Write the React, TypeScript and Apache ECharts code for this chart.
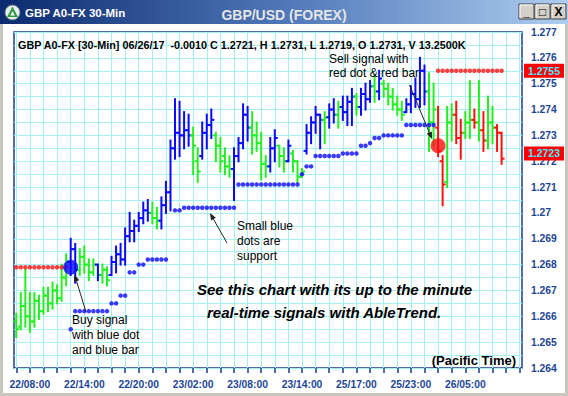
import React, { useEffect, useRef } from "react";
import * as echarts from "echarts";

// ---------- data ----------
const barSlots = 112; // category slots on the x axis (30-min bars)
const xTickLabels = ["22/08:00", "22/14:00", "22/20:00", "23/02:00", "23/08:00", "23/14:00", "25/17:00", "25/23:00", "26/05:00"];
const xTickIndex = [3, 15, 27, 39, 51, 63, 75, 87, 99];

const priceLow = [
  1.2652, 1.2655, 1.2656, 1.2654, 1.2656, 1.2659, 1.2661, 1.2662, 1.2663, 1.2665, 1.2666, 1.2672,
  1.2676, 1.2673, 1.2676, 1.2677, 1.2674, 1.2676, 1.2674, 1.2673, 1.2672, 1.2676, 1.2677, 1.268, 1.268, 1.2689, 1.2689, 1.2693, 1.2696, 1.2697, 1.2696, 1.2694, 1.2694, 1.27,
  1.2701, 1.2721, 1.2722, 1.2725, 1.2726, 1.2715, 1.2712, 1.2721, 1.2725, 1.2729, 1.272, 1.2716, 1.2715, 1.2714,
  1.2705, 1.272, 1.2725, 1.2728, 1.2723, 1.2724, 1.2713, 1.2714, 1.2716, 1.272, 1.2718, 1.2716, 1.272, 1.2716, 1.2712, 1.2714,
  1.2723, 1.2727, 1.2731, 1.2725, 1.2727, 1.2733, 1.2735, 1.2733, 1.2736, 1.2734, 1.2734, 1.2738, 1.2738, 1.274, 1.2743, 1.2743, 1.2744, 1.2745, 1.2742, 1.274, 1.2738, 1.2736, 1.2739, 1.2739, 1.2741, 1.2741, 1.2742, 1.2724, 1.2726,
  1.2722, 1.2703, 1.271, 1.2728, 1.2727, 1.2721, 1.2729, 1.2729, 1.2733, 1.2728, 1.2724, 1.2725, 1.2727, 1.2724, 1.2719,
];
const priceHigh = [
  1.2661, 1.2669, 1.2678, 1.2669, 1.2669, 1.2668, 1.2671, 1.2671, 1.2673, 1.2672, 1.268, 1.2684,
  1.269, 1.2688, 1.2686, 1.2687, 1.2682, 1.2682, 1.268, 1.268, 1.2679, 1.2683, 1.2687, 1.2688, 1.2694, 1.27, 1.2697, 1.27, 1.2704, 1.2705, 1.2704, 1.2702, 1.2706, 1.2712,
  1.2728, 1.2744, 1.2743, 1.2739, 1.2738, 1.2733, 1.2725, 1.2735, 1.2738, 1.274, 1.2731, 1.2729, 1.2725, 1.2722,
  1.2725, 1.2729, 1.2742, 1.2741, 1.2739, 1.2735, 1.2731, 1.2722, 1.2729, 1.2732, 1.2726, 1.2725, 1.2728, 1.2724, 1.272, 1.2717,
  1.2734, 1.2737, 1.2741, 1.2738, 1.2739, 1.2742, 1.2744, 1.2743, 1.2745, 1.2745, 1.2748, 1.2746, 1.2748, 1.275, 1.2751, 1.2753, 1.2755, 1.2751, 1.275, 1.2748, 1.2745, 1.2743, 1.2744, 1.2749, 1.2752, 1.276, 1.2757, 1.2754, 1.275,
  1.2741, 1.2722, 1.2741, 1.2742, 1.2743, 1.2736, 1.2739, 1.2751, 1.274, 1.2751, 1.2739, 1.2745, 1.2741, 1.2734, 1.2731,
];
const priceOpen = [
  1.2658, 1.2656, 1.2664, 1.266, 1.2658, 1.2666, 1.2662, 1.2668, 1.2665, 1.267, 1.2667, 1.2675,
  1.2681, 1.2686, 1.2678, 1.2683, 1.268, 1.2677, 1.268, 1.2676, 1.2678, 1.2676, 1.2681, 1.2684, 1.2682, 1.2691, 1.2693, 1.2695, 1.2698, 1.2701, 1.27, 1.2698, 1.2697, 1.2703,
  1.2708, 1.2725, 1.2731, 1.273, 1.2732, 1.273, 1.272, 1.2722, 1.2731, 1.2734, 1.273, 1.2726, 1.2722, 1.2718,
  1.2717, 1.2722, 1.2727, 1.2738, 1.2733, 1.273, 1.2727, 1.2719, 1.2718, 1.2725, 1.2726, 1.2722, 1.272, 1.2723, 1.272, 1.2714,
  1.2724, 1.2731, 1.2735, 1.2738, 1.2736, 1.2737, 1.274, 1.2738, 1.2741, 1.2739, 1.2743, 1.2745, 1.2741, 1.2746, 1.2744, 1.2749, 1.2747, 1.275, 1.2748, 1.2745, 1.2742, 1.274, 1.2739, 1.2742, 1.2746, 1.2744, 1.2755, 1.2747, 1.2735,
  1.2733, 1.272, 1.2712, 1.2735, 1.2738, 1.2729, 1.2731, 1.2735, 1.2736, 1.2735, 1.2732, 1.2728, 1.2735, 1.2733, 1.2731,
];
const priceClose = [
  1.2655, 1.2664, 1.266, 1.2658, 1.2666, 1.2662, 1.2668, 1.2665, 1.267, 1.2667, 1.2675, 1.2681,
  1.2686, 1.2678, 1.2683, 1.268, 1.2677, 1.268, 1.2676, 1.2678, 1.2674, 1.2681, 1.2684, 1.2682, 1.2691, 1.2693, 1.2695, 1.2698, 1.2701, 1.27, 1.2698, 1.2697, 1.2703, 1.2708,
  1.2725, 1.2731, 1.273, 1.2732, 1.273, 1.2726, 1.2716, 1.2731, 1.2734, 1.2736, 1.2726, 1.272, 1.2718, 1.2717,
  1.2722, 1.2727, 1.2738, 1.2733, 1.273, 1.2727, 1.2719, 1.2718, 1.2725, 1.2729, 1.2722, 1.272, 1.2726, 1.272, 1.2714, 1.2716,
  1.2731, 1.2735, 1.2738, 1.2736, 1.2737, 1.274, 1.2738, 1.2741, 1.2739, 1.2743, 1.2745, 1.2741, 1.2746, 1.2744, 1.2749, 1.2747, 1.2752, 1.2748, 1.2745, 1.2742, 1.274, 1.2738, 1.2742, 1.2746, 1.2744, 1.2755, 1.2747, 1.2735, 1.274,
  1.2724, 1.2711, 1.2735, 1.2738, 1.2729, 1.2731, 1.2735, 1.2736, 1.2735, 1.2732, 1.2728, 1.2735, 1.2733, 1.2731, 1.2721,
];
// B = uptrend (blue), G = neutral (green), R = downtrend (red)
const barTrend = [
  "G", "G", "G", "G", "G", "G", "G", "G", "G", "G", "G", "G",
  "B", "B", "G", "G", "G", "G", "B", "G", "G", "B", "B", "B", "B", "B", "B", "B", "B", "B", "G", "G", "B", "B",
  "B", "B", "B", "B", "B", "G", "G", "B", "B", "B", "G", "G", "G", "G",
  "B", "B", "B", "B", "G", "G", "G", "G", "B", "B", "G", "G", "B", "G", "G", "G",
  "B", "B", "B", "B", "G", "B", "B", "G", "B", "B", "B", "G", "B", "B", "B", "G", "B", "G", "G", "G", "G", "G", "B", "B", "B", "B", "B", "G", "G",
  "R", "R", "G", "G", "R", "R", "G", "G", "R", "G", "R", "G", "G", "R", "R",
];
// blue support dots (per bar, null = none)
const blueStop = [
  null, null, null, null, null, null, null, null, null, null, null, null,
  1.2655, 1.2662, 1.2662, 1.2662, 1.2662, 1.2662, 1.2662, 1.2662, 1.2662, 1.2665, 1.2665, 1.2668, 1.2668, 1.2677, 1.2677, 1.268, 1.268, 1.2682, 1.2682, 1.2682, 1.2682, 1.2682,
  null, 1.2701, 1.2701, 1.2702, 1.2702, 1.2702, 1.2702, 1.2702, 1.2702, 1.2702, 1.2702, 1.2702, 1.2702, 1.2702,
  1.2702, 1.2711, 1.2711, 1.2711, 1.2711, 1.2711, 1.2711, 1.2711, 1.2711, 1.2711, 1.2711, 1.2711, 1.2711, 1.2711, 1.2711, 1.2715,
  1.2718, 1.2718, 1.2722, 1.2722, 1.2722, 1.2722, 1.2722, 1.2722, 1.2723, 1.2723, 1.2723, 1.2723, 1.2726, 1.2726, 1.2727, 1.2729, 1.2729, 1.273, 1.273, 1.273, 1.273, 1.273, 1.2734, 1.2734, 1.2734, 1.2734, 1.2734, 1.2734, 1.2734,
  null, null, null, null, null, null, null, null, null, null, null, null, null, null, null,
];
// red resistance dots (per bar, null = none)
const redStop = [
  1.2679, 1.2679, 1.2679, 1.2679, 1.2679, 1.2679, 1.2679, 1.2679, 1.2679, 1.2679, 1.2679, 1.2679,
  null, null, null, null, null, null, null, null, null, null, null, null, null, null, null, null, null, null, null, null, null, null,
  null, null, null, null, null, null, null, null, null, null, null, null, null, null,
  null, null, null, null, null, null, null, null, null, null, null, null, null, null, null, null,
  null, null, null, null, null, null, null, null, null, null, null, null, null, null, null, null, null, null, null, null, null, null, null, null, null, null, null, null, null,
  1.2755, 1.2755, 1.2755, 1.2755, 1.2755, 1.2755, 1.2755, 1.2755, 1.2755, 1.2755, 1.2755, 1.2755, 1.2755, 1.2755, 1.2755,
];
const buySignal = { index: 12, price: 1.2679 };
const sellSignal = { index: 93, price: 1.2726 };
const priceTags = [1.2755, 1.2723];
const yMin = 1.264;
const yMax = 1.277;
const yStep = 0.001;

// ---------- styling ----------
const FONT = "'Liberation Sans', Arial, sans-serif";
const BLUE = "#0a0aff";
const GREEN = "#22f022";
const RED = "#ff1010";
const GRID = "#a6f0f0";
const NAVY = "#1b3c8f";
const LABEL = "#1c4596";

function arrow(x1: number, y1: number, x2: number, y2: number) {
  const dx = x2 - x1, dy = y2 - y1;
  const len = Math.hypot(dx, dy);
  const ux = dx / len, uy = dy / len;
  const head = 7, half = 2.8;
  const bx = x2 - ux * head, by = y2 - uy * head;
  return [
    { type: "line", z: 100, shape: { x1, y1, x2: bx, y2: by }, style: { stroke: "#222", lineWidth: 1 } },
    {
      type: "polygon", z: 100,
      shape: { points: [[x2, y2], [bx - uy * half, by + ux * half], [bx + uy * half, by - ux * half]] },
      style: { fill: "#222" },
    },
  ];
}

function txt(text: string, x: number, y: number, font: string, fill = "#000", align = "left") {
  return { type: "text", z: 100, x, y, style: { text, font, fill, align, verticalAlign: "middle" } };
}

function winButton(x: number, glyph: string) {
  return [
    { type: "rect", z: 10, shape: { x, y: 4, width: 15, height: 15 }, style: { fill: "#d4d0c8", stroke: "#404040", lineWidth: 1 } },
    { type: "line", z: 11, shape: { x1: x + 1, y1: 5, x2: x + 14, y2: 5 }, style: { stroke: "#ffffff", lineWidth: 1 } },
    { type: "line", z: 11, shape: { x1: x + 1, y1: 5, x2: x + 1, y2: 18 }, style: { stroke: "#ffffff", lineWidth: 1 } },
    txt(glyph, x + 7.5, 12, `bold 12px ${FONT}`, "#000", "center"),
  ];
}

export default function App() {
  const ref = useRef<HTMLDivElement>(null);

  useEffect(() => {
    if (!ref.current) return;
    const chart = echarts.init(ref.current, undefined, { renderer: "svg" });

    const categories = Array.from({ length: barSlots }, (_, i) => String(i));
    const barData = priceOpen.map((o, i) => [i, o, priceClose[i], priceLow[i], priceHigh[i], ["B", "G", "R"].indexOf(barTrend[i])]);
    const blueDots = blueStop.map((v, i) => (v == null ? null : [i, v])).filter(Boolean);
    const redDots = redStop.map((v, i) => (v == null ? null : [i, v])).filter(Boolean);

    const option: any = {
      animation: false,
      backgroundColor: "#ffffff",
      textStyle: { fontFamily: FONT },
      grid: {
        left: 14, top: 32, width: 508, height: 336,
        show: true, borderColor: NAVY, borderWidth: 1.5, backgroundColor: "#ffffff",
        outerBoundsMode: "none", containLabel: false,
      },
      xAxis: {
        type: "category",
        data: categories,
        boundaryGap: true,
        axisLine: { show: false },
        axisTick: {
          show: true, alignWithLabel: true, length: 5,
          interval: (i: number) => i % 3 === 0,
          lineStyle: { color: NAVY, width: 1.5 },
        },
        axisLabel: {
          interval: (i: number) => xTickIndex.indexOf(i) >= 0,
          formatter: (_v: string, i: number) => {
            const k = xTickIndex.indexOf(i);
            return k >= 0 ? xTickLabels[k] : "";
          },
          color: LABEL, fontWeight: "bold", fontSize: 10.3, fontFamily: FONT, margin: 11,
        },
        splitLine: {
          show: true, alignWithLabel: true,
          interval: (i: number) => i % 3 === 0,
          lineStyle: { color: GRID, width: 1 },
        },
      },
      yAxis: {
        type: "value",
        position: "right",
        min: yMin, max: yMax, interval: yStep,
        axisLine: { show: false },
        axisTick: { show: false },
        axisLabel: {
          color: LABEL, fontWeight: "bold", fontSize: 10.3, fontFamily: FONT, margin: 9,
          formatter: (v: number) => String(parseFloat(v.toFixed(3))),
        },
        splitLine: { show: true, lineStyle: { color: GRID, width: 1 } },
        minorTick: { show: false, splitNumber: 2 },
        minorSplitLine: { show: true, lineStyle: { color: GRID, width: 1 } },
      },
      series: [
        {
          type: "custom",
          name: "bars",
          data: barData,
          encode: { x: 0, y: [1, 2, 3, 4] },
          clip: false,
          z: 3,
          renderItem: (_params: any, api: any) => {
            const i = api.value(0);
            const color = [BLUE, GREEN, RED][api.value(5)];
            const pl = api.coord([i, api.value(3)]);
            const ph = api.coord([i, api.value(4)]);
            const po = api.coord([i, api.value(1)]);
            const pc = api.coord([i, api.value(2)]);
            const st = { stroke: color, lineWidth: 2 };
            return {
              type: "group",
              children: [
                { type: "line", shape: { x1: pl[0], y1: pl[1] + 1, x2: ph[0], y2: ph[1] - 1 }, style: st },
                { type: "line", shape: { x1: po[0] - 3, y1: po[1], x2: po[0], y2: po[1] }, style: st },
                { type: "line", shape: { x1: pc[0], y1: pc[1], x2: pc[0] + 3, y2: pc[1] }, style: st },
              ],
            };
          },
        },
        {
          type: "scatter", name: "support", data: blueDots, symbol: "circle", symbolSize: 4.5,
          itemStyle: { color: BLUE }, z: 4, silent: true,
        },
        {
          type: "scatter", name: "resistance", data: redDots, symbol: "circle", symbolSize: 4.5,
          itemStyle: { color: RED }, z: 4, silent: true,
        },
        {
          type: "scatter", name: "signals", z: 6, silent: true, symbolSize: 15,
          data: [
            { value: [buySignal.index, buySignal.price], itemStyle: { color: BLUE } },
            { value: [sellSignal.index, sellSignal.price], itemStyle: { color: RED } },
          ],
        },
        {
          type: "custom",
          name: "priceTags",
          data: priceTags.map((v) => [0, v]),
          encode: { x: 0, y: 1 },
          clip: false,
          silent: true,
          z: 10,
          renderItem: (params: any, api: any) => {
            const v = api.value(1);
            const p = api.coord([0, v]);
            const cs = params.coordSys;
            const x = cs.x + cs.width + 2;
            return {
              type: "group",
              children: [
                { type: "rect", shape: { x, y: p[1] - 7, width: 40, height: 14 }, style: { fill: "#ff0000" } },
                {
                  type: "text", x: x + 20, y: p[1],
                  style: { text: Number(v).toFixed(4), fill: "#45e8ff", font: `bold 10.5px ${FONT}`, align: "center", verticalAlign: "middle" },
                },
              ],
            };
          },
        },
      ],
      graphic: [
        // window frame
        { type: "rect", z: 1, shape: { x: 0, y: 24, width: 3, height: 372 }, style: { fill: "#c9c6bf" } },
        { type: "rect", z: 1, shape: { x: 565, y: 24, width: 3, height: 372 }, style: { fill: "#c9c6bf" } },
        { type: "rect", z: 1, shape: { x: 0, y: 393, width: 568, height: 3 }, style: { fill: "#c9c6bf" } },
        // title bar
        {
          type: "rect", z: 5, shape: { x: 0, y: 0, width: 568, height: 24 },
          style: {
            fill: new echarts.graphic.LinearGradient(0, 0, 1, 0, [
              { offset: 0, color: "#0b2a70" },
              { offset: 0.5, color: "#4f77b8" },
              { offset: 1, color: "#aecdf0" },
            ]),
          },
        },
        { type: "circle", z: 10, shape: { cx: 12.5, cy: 12.5, r: 7.5 }, style: { fill: "#e9eef0", stroke: "#5a6a70", lineWidth: 1 } },
        { type: "polygon", z: 11, shape: { points: [[12.5, 6.5], [18, 17], [7, 17]] }, style: { fill: "#2e9a3e" } },
        { type: "polygon", z: 12, shape: { points: [[12.5, 11], [14.8, 15.5], [10.2, 15.5]] }, style: { fill: "#ffffff" } },
        txt("GBP A0-FX 30-Min", 25, 13, `bold 11.5px ${FONT}`, "#ffffff"),
        txt("GBP/USD (FOREX)", 284, 15, `bold 14px ${FONT}`, "#e4e4e4", "center"),
        ...winButton(519, "_"),
        ...winButton(535, "□"),
        ...winButton(551, "X"),
        // header line
        txt("GBP A0-FX [30-Min] 06/26/17  -0.0010 C 1.2721, H 1.2731, L 1.2719, O 1.2731, V 13.2500K", 18, 44.5, `bold 10.8px ${FONT}`),
        // annotations
        txt("Sell signal with", 329, 58.5, `12px ${FONT}`),
        txt("red dot & red bar", 329, 73, `12px ${FONT}`),
        ...arrow(409.5, 85, 432, 139),
        txt("Buy signal", 72, 320, `12px ${FONT}`),
        txt("with blue dot", 72, 335, `12px ${FONT}`),
        txt("and blue bar", 72, 350, `12px ${FONT}`),
        ...arrow(86, 312, 74.5, 274.5),
        txt("Small blue", 237, 226, `12px ${FONT}`),
        txt("dots are", 237, 241, `12px ${FONT}`),
        txt("support", 237, 256, `12px ${FONT}`),
        ...arrow(227, 243, 210, 213),
        txt("See this chart with its up to the minute", 197, 289, `italic bold 15px ${FONT}`),
        txt("real-time signals with AbleTrend.", 207, 312, `italic bold 15px ${FONT}`),
        txt("(Pacific Time)", 516, 360, `bold 13px ${FONT}`, "#000", "right"),
      ],
    };

    chart.setOption(option);
    return () => chart.dispose();
  }, []);

  return (
    <div
      ref={ref}
      style={{ position: "absolute", left: 0, top: 0, width: 568, height: 396, background: "#fff" }}
    />
  );
}
